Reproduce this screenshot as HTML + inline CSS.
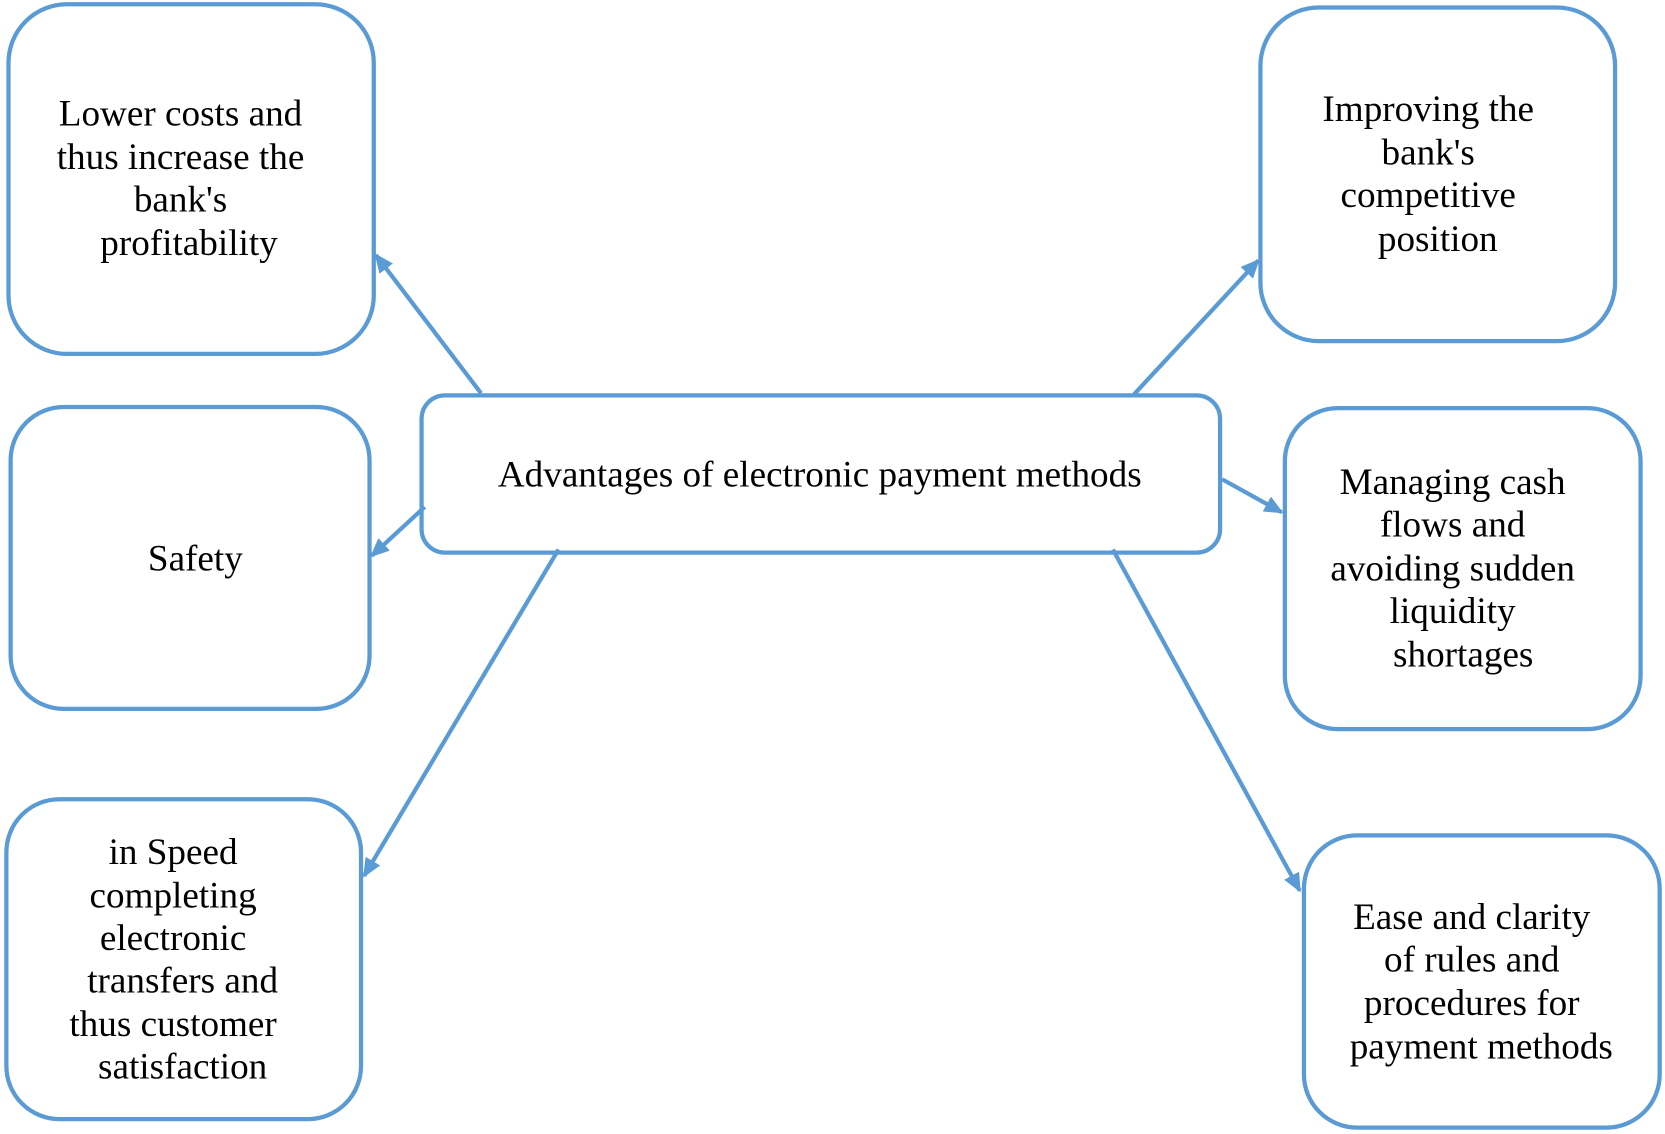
<!DOCTYPE html>
<html><head><meta charset="utf-8"><style>html,body{margin:0;padding:0;background:#fff}svg{display:block}text{font-family:"Liberation Serif","DejaVu Serif",serif;font-size:35px}</style></head>
<body>
<svg width="1665" height="1134" viewBox="0 0 1568 1067" preserveAspectRatio="none" xmlns="http://www.w3.org/2000/svg">
<defs>
<marker id="b" markerWidth="18" markerHeight="16" refX="16" refY="8" orient="auto" markerUnits="userSpaceOnUse"><path d="M0,0 L18,8 L0,16 z" fill="#5b9bd5"/></marker></defs>
<g fill="#fff" stroke="#5b9bd5" stroke-width="4">
<rect x="8" y="4" width="344" height="329" rx="55"/>
<rect x="10" y="383" width="338" height="284" rx="50"/>
<rect x="6" y="752" width="334" height="301" rx="50"/>
<rect x="397" y="372" width="752" height="148" rx="22"/>
<rect x="1187" y="7" width="334" height="314" rx="55"/>
<rect x="1210" y="384" width="335" height="302" rx="50"/>
<rect x="1228" y="786" width="335" height="275" rx="50"/>
</g>
<g stroke="#5b9bd5" stroke-width="4" marker-end="url(#b)">
<line x1="453" y1="370" x2="354" y2="240"/>
<line x1="1068" y1="371" x2="1185" y2="245"/>
<line x1="400" y1="477" x2="350" y2="523"/>
<line x1="1151" y1="451" x2="1207" y2="482"/>
<line x1="526" y1="517" x2="343" y2="824"/>
<line x1="1048" y1="517" x2="1224" y2="838"/>
</g>
<g fill="#000" text-anchor="middle">
<text x="170" y="118">Lower costs and</text>
<text x="170" y="159">thus increase the</text>
<text x="170" y="199">bank's</text>
<text x="178" y="240">profitability</text>
<text x="184" y="537">Safety</text>
<text x="163" y="813">in Speed</text>
<text x="163" y="854">completing</text>
<text x="163" y="894">electronic</text>
<text x="172" y="934">transfers and</text>
<text x="163" y="975">thus customer</text>
<text x="172" y="1015">satisfaction</text>
<text x="772" y="458">Advantages of electronic payment methods</text>
<text x="1345" y="114">Improving the</text>
<text x="1345" y="155">bank's</text>
<text x="1345" y="195">competitive</text>
<text x="1354" y="236">position</text>
<text x="1368" y="465">Managing cash</text>
<text x="1368" y="505">flows and</text>
<text x="1368" y="546">avoiding sudden</text>
<text x="1368" y="586">liquidity</text>
<text x="1378" y="627">shortages</text>
<text x="1386" y="874">Ease and clarity</text>
<text x="1386" y="914">of rules and</text>
<text x="1386" y="955">procedures for</text>
<text x="1395" y="996">payment methods</text>
</g>
</svg>
</body></html>
